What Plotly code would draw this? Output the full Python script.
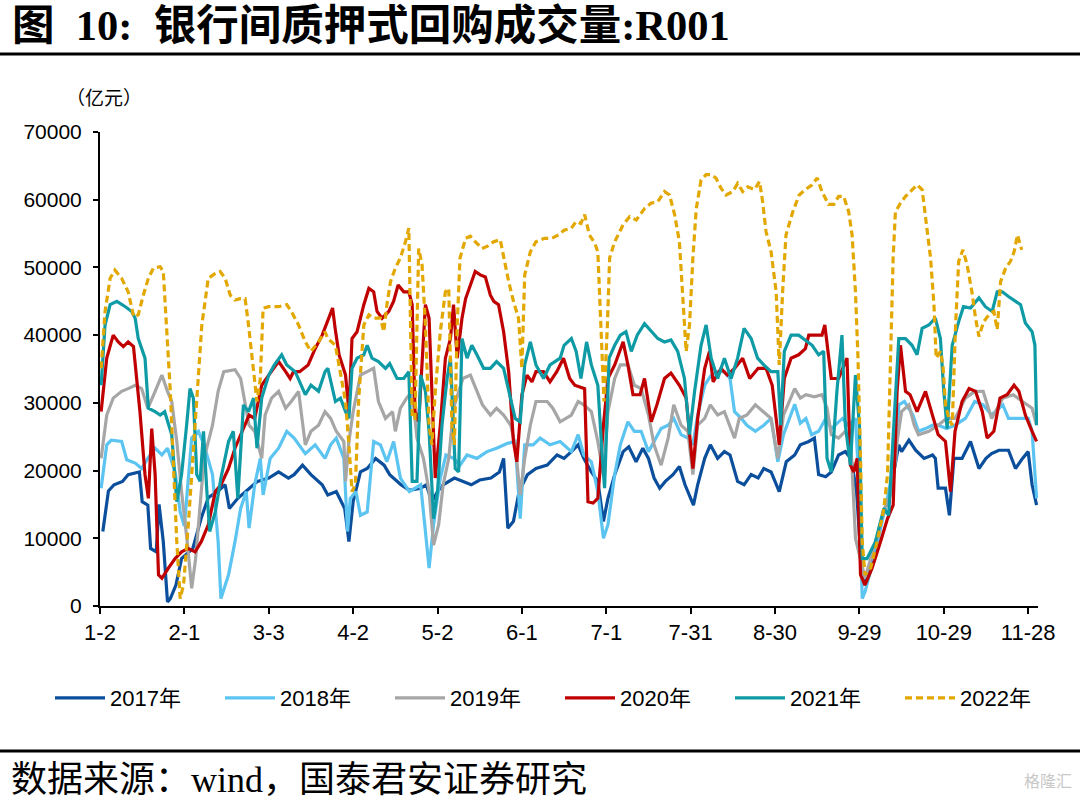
import plotly.graph_objects as go

# x axis: days counted from Jan 2 (ticks every 30 days)
tick_days = [0, 30, 60, 90, 120, 150, 180, 210, 240, 270, 300, 330]
tick_labels = ["1-2", "2-1", "3-3", "4-2", "5-2", "6-1", "7-1", "7-31", "8-30", "9-29", "10-29", "11-28"]
y_ticks = [0, 10000, 20000, 30000, 40000, 50000, 60000, 70000]

d2017 = [1,3,5,8,10,14,15,17,18,20,21,22.5,24,25,27,29,33,36,38.5,42,44.5,46,49,53,56,60,63.5,67,69,72,75,79,81,
         84,87,88.5,90,92.6,95,98,101,103,107,110,114,116,118,120,122,126,129,132,135,139,142,143.5,145,147,149,152,155,159,162.5,165,
         167.6,170,172,174.7,177,179,180.6,183,186,188,190.6,193,195,197,199,201,203.7,206,208,211,212.5,215,217,219.6,222,224,226.7,229,231.5,234,236,238.6,241.5,244,247,
         249,252,254,255.5,258,260,262.6,265,267,269,271,272,274.5,278,281,283,284,285,287.6,290,293,296,297,298,300.6,302,303.6,306.5,309.5,312.5,315,317,319.6,323,325.5,328,330,331.4,333]
v2017 = [11000,17000,17900,18400,19400,19800,15400,14900,8500,8000,15000,9500,600,1100,3100,7000,8500,13000,16000,17000,17900,14400,15900,17400,18400,18900,19800,18900,19400,20800,19400,17900,16400,
         16900,14400,9500,15400,19800,20300,21800,20800,19400,17900,17100,17400,17900,15400,16900,17900,18900,18400,17900,18600,18900,19800,21800,11500,12500,16900,19400,20300,20800,22300,21800,
         22800,23800,21800,19800,18400,12500,15900,19400,22800,23500,21300,23300,21800,18900,17400,18400,19400,20600,17900,14900,17900,21800,23800,21800,22800,22300,18400,17900,19400,18900,20300,19800,16900,21300,22300,
         23800,24300,24800,19400,19100,19800,22300,22800,21800,16900,4100,3100,7000,12900,16900,21800,23800,22800,24500,23000,21800,22300,21800,17400,17400,13400,21800,21800,24300,20300,21800,22500,23000,23000,20300,21800,22800,17900,14900]

d2018 = [0.4,2.4,4,7.7,9.5,12.5,14.8,17,19.6,22,24,26.7,28.5,30,32.6,35,37,40,42,43,45.7,48,50,52,53,55,57,58,60.5,63.5,66.4,69,73,76.5,80,
         82,84,86.7,88,89,91,92.6,95,97.3,99.7,102,104.4,106.8,110,114,115.7,117,118.6,121,123,125.7,128,130.5,134,137.6,141,144.7,147.6,149.4,151,154,156.5,160,163.6,
         167.6,170,172,174.7,177,179,180.6,183,185,187.7,190,192.4,195,197,199.5,202,204,206.6,209,210.8,212.5,215,217,219.6,222,224,225.6,228,230,233,236,238.6,241,243,247,
         249,251,253,255.5,258,260,264,266,268.6,270,271,272,275.7,279,283,284,286,289,291,293.5,296,298,301,304,307.7,311,314,317,321,323,326.7,330,331.4,333]
v2018 = [17400,23800,24500,24300,21600,21100,20300,21800,23300,22300,23300,19800,13900,11800,24800,25800,23800,19400,9500,1100,4600,9500,14400,16900,11500,17900,21800,16400,21800,23300,25800,24800,22500,23800,21800,
         23800,24800,21800,11000,15900,16900,13400,13900,24300,23800,21300,24300,18900,16900,17900,11000,5600,12000,18900,22300,21800,20800,22300,21800,22800,23300,24000,24300,12900,23800,23800,24800,23800,24300,
         22800,25300,22300,21300,16900,10000,12000,19400,23800,27200,25800,25800,22800,24300,26200,26700,27700,25300,24800,23800,28200,32600,33900,34600,34600,33600,28700,27700,26700,25800,26700,27700,21300,25300,29800,
         27000,27700,25300,25800,27700,26200,27700,26700,27700,16900,1100,2100,8000,14400,21800,29700,30200,28200,25800,26200,26700,26700,26200,26700,27700,30200,29700,28200,29700,27700,27700,27700,25800,15900]

d2019 = [0.4,2.4,4.7,7.7,10,12.5,14.8,17,19.6,22,24,25.5,27.3,29,31,32.6,34,35.6,37,40,42,44,48,50,53,55,57.5,58.7,61,63.5,66,68,70.6,73,75,77.7,80,
         82,84,86.7,87.3,88.5,90,92.6,95,97.3,99,101.5,104,105,106.8,109,111,112.7,115,117,118.6,120.4,122,124,125.7,127.5,129,131.7,134,136,138.8,141,143.5,146,147.6,149.4,151,153,155,159,161,163.6,
         167.6,170,172,174.7,177,179,180.6,183,185,187.7,190,192.4,195,197,199.5,202,204,206.6,209,210.8,212.5,215,217,219.6,222,224,225.6,227.3,230,233,236,238.6,241,243,247,
         249,251,254,256.7,258.5,260,262.6,265,267,268.6,270.4,272,275.7,279,281.6,283.4,285,287.6,289.5,291,294.7,298,301,304,307.7,311,314,317,321,324.7,328,331.4,333]
v2019 = [21800,28200,30700,31700,32100,32600,32100,29200,31700,34100,31700,30200,24300,16900,9500,2600,7000,14400,21800,26700,31700,34600,34900,33600,26700,25800,21800,28200,30700,31700,29200,30200,31700,23800,25800,26700,28700,
         27700,25800,24300,18400,24300,28700,34100,34600,35100,30200,27700,28700,25800,29200,30700,31700,24800,21800,16900,9000,12000,17900,21800,29200,31700,33600,34100,31700,29700,28200,29200,28200,26700,23800,16400,21800,26700,30200,30200,29200,27200,
         28200,30200,29700,28700,24300,19400,28700,33600,35600,35600,32600,32100,28200,23800,20800,24800,29700,26700,25800,19400,26700,27700,29700,28200,28700,26700,24800,27700,28200,29700,28700,27700,21800,28200,32100,
         30700,31200,30900,31200,29200,25300,24800,25800,23800,10000,7000,4100,9500,14400,16900,24300,28700,29700,26700,25300,25800,26700,27700,27700,30700,31700,31700,27700,30700,31200,30200,29200,26700]

d2020 = [0.4,2.4,4.7,6.5,8.3,10,11.9,13,14.2,16,17.2,18.4,19.6,20.8,22,24.3,26.7,29,31.4,33.8,36,38.5,41,43,45.7,48,50,53,55,57.5,60,63.5,66,67.6,68.8,71,74,76.5,79,81,82.7,
         83.6,85,87.3,88.5,89.6,91.4,93.8,95.6,97.3,98.5,100.3,102.7,104.4,106,108,109.8,111,112,113.3,114.5,115.7,117,118,119.2,121,122.8,124.6,125.7,127,128.7,130,131.7,133.4,135.2,137,138.8,140,141.7,143.5,145.3,147,148.2,150,151.8,153.6,155,157.7,160,162.4,164.8,
         167,168.8,172.3,173.5,175.3,177,179,180.6,183,186,187.7,189.5,192,193.6,196,198,200.7,203,206,208.4,210.8,212.5,215,216.7,218,220.8,223,225.6,228.5,231,234,236.8,239,241.5,243.3,245.7,
         248.4,250.8,252,254.3,256.7,257.7,259,260,262.6,265.6,266.8,268,269.2,270.4,272,274.5,277.5,280,282,283.4,284.6,286.4,288,290.5,293.5,296,298,300.6,302.4,304,306.5,309,311.3,313.7,315.4,317.8,320,322.5,325,326.7,329,331.4,333]
v2020 = [28700,36600,40000,39000,38300,39000,38300,33600,28700,19400,15900,26200,19400,4600,4100,5600,7000,8000,8500,8000,9500,12000,16900,17900,20300,23300,25300,28200,27700,32600,34100,36100,34600,33600,34600,34600,35600,38000,40000,42000,44000,
         41000,37100,34100,28700,39500,40500,44500,46900,46400,43500,42500,43500,45000,47400,46400,46400,44500,28700,27200,35600,44500,42500,31700,18900,26700,36600,39500,44500,36600,42500,45400,47400,49400,48900,48600,45900,45000,44500,40500,34600,24300,21300,31200,34100,33100,34600,34600,33100,34600,36600,
         33600,32600,32100,15400,15200,15900,26700,33600,35600,39000,35600,31200,31200,33600,27200,29700,33600,34400,32600,30700,20300,27700,35100,37600,33100,35100,34100,35100,36600,33600,35100,35100,32600,23800,33600,36600,
         37100,38000,40000,40000,40000,41500,36600,33600,33600,36600,20800,19800,21800,4600,3100,5600,9500,12900,14900,31700,38500,31700,31200,28700,31700,28200,25300,24300,16900,25800,30200,32100,31700,28700,24800,25800,30700,31200,32600,31700,28200,25800,24300]

d2021 = [0.4,1.8,3.6,6,9,11.3,12.5,13.6,16,17.2,19.6,21.4,23,25.5,27.3,29,30.8,32,33.2,34.4,35.6,36.8,38,39,41,43,45.7,47.4,49,51,52.8,54.6,55.8,57.5,60,62,64.6,66.4,69.4,73,75,77.7,80,81,
         83.7,85.5,87.3,88.5,89.6,91.4,93.8,95,96.7,99,101.5,103,105.6,108,109.8,111,112.7,114,115.7,117,118.6,120,121.6,123.4,124.6,126.3,127.5,128.7,130.5,132.2,134,136.4,138.8,141,143.5,146,147.6,149.4,151,153,155,157.7,160,163.6,
         165,167.6,169.3,171,173,174.7,177,178.6,179.4,181,183,185,187,188.9,191,193.6,196,198.3,200.7,203,205.4,207.8,209.6,211.4,213.7,215.5,217.3,219.6,222,224.4,226.7,229,231.5,233.8,236,238.6,241,242,243.3,245.7,
         248.4,250.8,253.2,255.5,257.3,258.5,260,262,263.8,265,266.8,268.6,270,271,272.7,275.7,278.7,280.4,282.2,284,286.4,288.7,290.5,292.3,294.7,297,298.8,300,301.2,303,305.3,307,309.5,312.5,314.8,317.2,319,320.8,323,325.5,327.3,329,331.4,332.4,333]
v2021 = [32600,41500,44500,45000,44200,43500,42500,39500,36600,29200,28700,28200,28700,25300,15400,19400,26700,32100,30700,19400,18400,25800,16900,11000,13900,18900,24300,25800,15900,29700,28700,30700,23300,30700,34100,35600,37100,35600,34600,31200,32600,31700,34600,35100,
         30200,30700,28700,27700,35100,36600,37100,38500,36600,36100,35100,35800,33600,33600,34600,18400,18400,34100,31700,25800,12900,16900,26700,33600,36600,20300,19800,39500,36600,38500,37100,35100,35100,36100,35100,30700,27700,27200,35600,39000,35600,33600,35600,36600,
         38500,39500,37600,33600,39000,35600,32600,21800,17400,36600,38500,40000,40500,37600,40000,41700,40500,39500,39000,39300,37600,33600,25300,31700,38500,41500,36600,33600,36600,33600,36600,41000,39500,36600,35600,34600,34600,26700,37600,40000,
         40000,39300,38500,37100,37600,21800,19800,31700,40000,26700,20800,34100,26700,7000,7000,9500,14400,13400,26700,39500,39500,38500,37100,41000,41500,42500,39500,31700,26200,38500,42000,44200,44000,45500,44200,43500,46400,46400,45700,45000,44500,41800,40500,38500,26700]

d2022 = [0.4,1.8,3.6,5.3,7.7,10,12,13.6,15.4,17.2,19,21.4,22.5,23.7,25,26,27.3,28.5,29.7,31.4,33.8,36.2,38.5,41,42.7,44.5,46.3,48,49.8,51.6,52.8,54,55.8,57,58,60,63.5,66.4,68,70.6,73,75,77.7,80,81,
         83.7,85.5,87.3,88.5,89.6,90.8,92,93.8,95.6,97.3,99.7,100.9,102,103.3,105,106.8,108.6,109.8,110.4,111,112,113.3,114.5,115.7,117,118,119.2,121,122.8,124,125.1,126,127,128,130,131.7,133.4,135.8,137.6,140,142.3,143.5,145.3,147,148.8,150,151,153,155,158,160.6,163,
         165,167.6,169.3,171,172.3,174,175.9,177,178,179.2,180.4,181.2,183,186,188.3,190.7,193.6,196,198.3,200.7,202.5,204.3,206,207.2,208.4,209.6,210.8,212,213.7,215.5,217.3,219,220.8,222.6,225,226.7,228.5,230.3,232.7,234.5,235.6,236.8,238.6,240.4,241.5,242.7,243.9,246.3,248.6,
         250.8,253.2,255,256.7,259,260.9,262.6,264.4,266.2,267.4,268.6,269.5,270.4,271,272,274,276.3,278.7,280,281,282,282.8,284.6,286.4,288.7,290.5,292.3,293.5,295.3,296.5,297.3,298.8,299.7,300.6,301.8,303,304.2,305.3,306.8,308.3,310,311.3,312.5,314.2,316,317.8,319,320.2,322,323.7,325,326.2,327.7]
v2022 = [35100,43500,48400,49600,48400,46400,42700,43000,45900,48400,49900,50100,49400,41500,31700,21800,9500,1100,3100,12000,26700,41500,48400,49100,49400,48400,45900,45200,45400,45400,41500,36600,30200,33600,44000,44200,44200,44500,43500,41500,39000,37600,39000,40500,39500,
         38500,34100,30200,23800,16900,17900,30700,41500,43000,42500,42500,40500,44500,47900,49900,51400,53800,55800,41500,27700,27700,52800,50400,41500,26700,23800,31700,40500,46400,46900,26700,23800,41500,51400,54300,54600,53800,52800,53100,53800,54100,51400,47900,45000,42500,35100,48900,52300,53800,54300,54300,54800,
         55500,55800,56800,56500,57800,54800,53600,52300,41500,30200,41500,51400,53800,56300,57500,57000,58700,59500,59700,61200,60700,57800,53800,46400,37600,41500,51400,58700,62900,63700,63700,63200,61700,60700,61200,62400,61200,61900,61500,62700,59700,55300,52300,46400,35600,46400,54800,58200,60700,
         61500,62200,63200,61200,59300,59300,60500,60500,58200,54800,46400,36600,21800,9500,4600,5600,9500,14400,19400,36600,51400,58200,59500,60500,61500,62200,61500,57300,51400,44500,36600,37600,35600,29700,27700,26700,41500,50900,52600,50400,46400,42500,39800,42000,43000,43500,40800,47900,49900,50900,52300,54800,52600]

series = [
    ("2017年", d2017, v2017, "#0B4F9C", None),
    ("2018年", d2018, v2018, "#5BC4F1", None),
    ("2019年", d2019, v2019, "#A6A6A6", None),
    ("2020年", d2020, v2020, "#C00000", None),
    ("2021年", d2021, v2021, "#0E9BA6", None),
    ("2022年", d2022, v2022, "#E2A700", "7px,4px"),
]

fig = go.Figure()
for name, d, v, color, dash in series:
    line = dict(color=color, width=3.2)
    if dash:
        line["dash"] = dash
    fig.add_trace(go.Scatter(x=d, y=v, mode="lines", name=name, line=line))

sans = "Liberation Sans, Arial, Noto Sans CJK SC, sans-serif"
serif = "Liberation Serif, Times New Roman, Noto Sans CJK SC, serif"

W, H = 1080, 804
L, R, T, B = 100, 42, 132, 198
pw = W - L - R
ph = H - T - B

def px(xp):
    return (xp - L) / pw

def py(yp):
    return (H - B - yp) / ph

fig.update_layout(
    width=W, height=H,
    margin=dict(l=L, r=R, t=T, b=B),
    paper_bgcolor="white", plot_bgcolor="white",
    title=dict(text="<b>图  10:  银行间质押式回购成交量:R001</b>",
               font=dict(family=serif, size=42.5, color="black"),
               xref="container", yref="container",
               x=12 / W, xanchor="left", y=1 - 25 / H, yanchor="middle"),
    xaxis=dict(range=[0, 333.5], tickvals=tick_days, ticktext=tick_labels,
               showline=True, linecolor="black", linewidth=2,
               ticks="outside", ticklen=6, tickwidth=2, tickcolor="black",
               showgrid=False, zeroline=False,
               tickfont=dict(family=sans, size=22, color="black")),
    yaxis=dict(range=[0, 70000], tickvals=y_ticks, tickformat="d",
               showline=True, linecolor="black", linewidth=2,
               ticks="outside", ticklen=5, tickwidth=2, tickcolor="black",
               showgrid=False, zeroline=False, ticklabelstandoff=7,
               tickfont=dict(family=sans, size=21, color="black")),
    legend=dict(orientation="h", x=px(50), y=py(698), xanchor="left", yanchor="middle",
                itemwidth=50, entrywidth=105, entrywidthmode="pixels",
                font=dict(family=sans, size=22, color="black"),
                bgcolor="rgba(0,0,0,0)", traceorder="normal"),
    showlegend=True,
    shapes=[
        dict(type="line", xref="paper", yref="paper", x0=px(0), x1=px(W), y0=py(54), y1=py(54),
             line=dict(color="black", width=3)),
        dict(type="line", xref="paper", yref="paper", x0=px(0), x1=px(W), y0=py(751), y1=py(751),
             line=dict(color="black", width=3)),
    ],
    annotations=[
        dict(text="（亿元）", xref="paper", yref="paper", x=px(104), y=py(97),
             xanchor="center", yanchor="middle", showarrow=False,
             font=dict(family="Noto Sans CJK SC, sans-serif", size=19, color="black")),
        dict(text="数据来源：wind，国泰君安证券研究", xref="paper", yref="paper", x=px(9), y=py(780),
             xanchor="left", yanchor="middle", showarrow=False,
             font=dict(family=serif, size=36, color="black")),
        dict(text="格隆汇", xref="paper", yref="paper", x=px(1074), y=py(780),
             xanchor="right", yanchor="middle", showarrow=False,
             font=dict(family="Noto Sans CJK SC, sans-serif", size=16, color="#C8C8C8")),
    ],
)

fig.write_html("out.html", config={"displayModeBar": False},
               post_script="document.body.style.margin='0';document.body.style.overflow='hidden';")
